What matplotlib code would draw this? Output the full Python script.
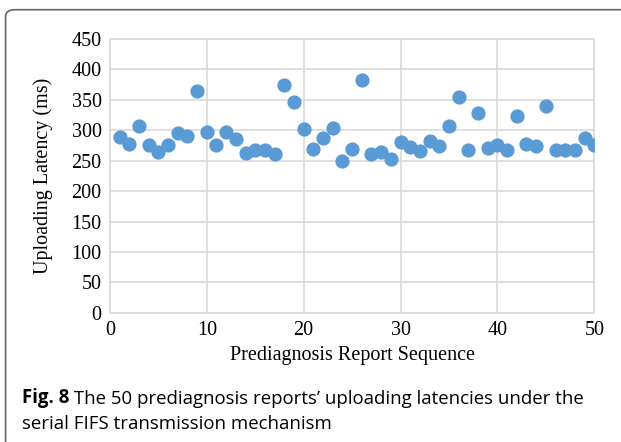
import matplotlib.pyplot as plt
from matplotlib.patches import FancyBboxPatch

## uploading latencies of the 50 prediagnosis reports
seq = list(range(1, 51))
latency = [289, 278, 307, 276, 265, 275, 295, 290, 364, 297,
           276, 297, 285, 262, 267, 267, 261, 375, 347, 302,
           269, 288, 304, 250, 270, 383, 261, 265, 253, 281,
           273, 266, 283, 274, 307, 354, 267, 329, 271, 276,
           267, 324, 277, 274, 339, 267, 268, 268, 287, 276]

xticks = [0, 10, 20, 30, 40, 50]
yticks = list(range(0, 451, 50))

serif = ["Liberation Serif", "DejaVu Serif"]

fig = plt.figure(figsize=(6.21, 4.42), dpi=100)

## rounded frame around the figure
frame = FancyBboxPatch((0.009, -0.05), 1.05, 1.028, boxstyle="round,pad=0,rounding_size=0.015",
                       transform=fig.transFigure, fill=False, edgecolor="#666666", linewidth=1.2)
fig.patches.append(frame)

ax = fig.add_axes([0.177, 0.292, 0.780, 0.620])
ax.scatter(seq, latency, s=105, color="#5B9BD5", zorder=3, linewidths=0)

ax.set_xlim(0, 50)
ax.set_ylim(0, 450)
ax.set_xticks(xticks)
ax.set_yticks(yticks)
ax.grid(True, color="#D9D9D9", linewidth=1.2, zorder=0)
for s in ax.spines.values():
    s.set_color("#D9D9D9")
    s.set_linewidth(1.2)
ax.tick_params(length=0, pad=6)
for lab in ax.get_xticklabels() + ax.get_yticklabels():
    lab.set_family(serif)
    lab.set_fontsize(14.5)

ax.set_xlabel("Prediagnosis Report Sequence", family=serif, fontsize=14.5, labelpad=4)
ax.set_ylabel("Uploading Latency (ms)", family=serif, fontsize=14.5, labelpad=13)

## caption
t = fig.text(0.035, 0.088, "Fig. 8", fontsize=13.4, family="Open Sans", fontweight="bold", va="baseline")
plt.annotate(" The 50 prediagnosis reports\u2019 uploading latencies under the",
             xy=(1, 0), xycoords=t, fontsize=13.4, family="Open Sans", va="bottom", ha="left",
             annotation_clip=False)
fig.text(0.035, 0.041, "serial FIFS transmission mechanism", fontsize=13.4, family="Open Sans", va="center")

plt.savefig("out.png", dpi=100)
